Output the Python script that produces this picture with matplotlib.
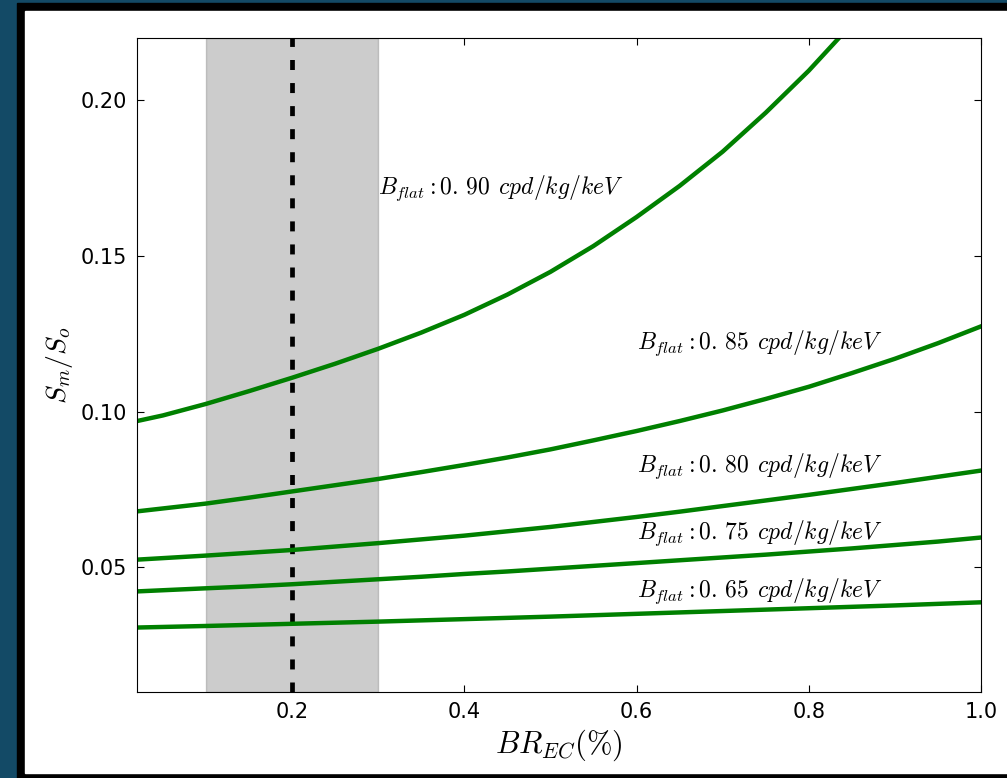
import numpy as np
import matplotlib
matplotlib.use('Agg')
from matplotlib import pyplot as plt
from matplotlib.patches import Rectangle

plt.rcParams['mathtext.fontset'] = 'cm'
plt.rcParams['lines.scale_dashes'] = False

br_top = [0.02, 0.05, 0.1, 0.15, 0.2, 0.25, 0.3, 0.35, 0.4, 0.45, 0.5,
          0.55, 0.6, 0.65, 0.7, 0.75, 0.8, 0.85]
br = [0.02, 0.1, 0.15, 0.2, 0.25, 0.3, 0.35, 0.4, 0.45, 0.5, 0.55,
      0.6, 0.65, 0.7, 0.75, 0.8, 0.85, 0.9, 0.95, 1.0]

# Sm/So for each flat background level
s_090 = [0.0970, 0.0988, 0.1025, 0.1066, 0.1109, 0.1154, 0.1202, 0.1254, 0.1311,
         0.1376, 0.1449, 0.1532, 0.1625, 0.1725, 0.1835, 0.1960, 0.2095, 0.2245]
s_085 = [0.0680, 0.0705, 0.0724, 0.0744, 0.0764, 0.0784, 0.0806, 0.0829, 0.0853, 0.0879,
         0.0908, 0.0938, 0.0970, 0.1004, 0.1041, 0.1080, 0.1124, 0.1170, 0.1220, 0.1274]
s_080 = [0.0525, 0.0538, 0.0547, 0.0556, 0.0567, 0.0578, 0.0590, 0.0602, 0.0616, 0.0630,
         0.0646, 0.0662, 0.0679, 0.0697, 0.0715, 0.0733, 0.0752, 0.0771, 0.0791, 0.0811]
s_075 = [0.0423, 0.0433, 0.0439, 0.0446, 0.0454, 0.0462, 0.0470, 0.0479, 0.0487, 0.0496,
         0.0505, 0.0514, 0.0523, 0.0532, 0.0541, 0.0551, 0.0561, 0.0572, 0.0583, 0.0596]
s_065 = [0.0307, 0.0312, 0.03155, 0.0319, 0.03225, 0.0326, 0.0330, 0.0334, 0.0338, 0.0342,
         0.03465, 0.0351, 0.03555, 0.0360, 0.03645, 0.0369, 0.03735, 0.0378, 0.0383, 0.0388]

labels = ['0.90', '0.85', '0.80', '0.75', '0.65']
label_x = [0.3, 0.6, 0.6, 0.6, 0.6]
label_y = [0.17, 0.12, 0.0805, 0.059, 0.0405]

fig = plt.figure(figsize=(10.07, 7.78), dpi=100, facecolor='#134a66')
# black frame and white page behind the axes
fig.patches.append(Rectangle((17/1007, 0), 1 - 17/1007, 775/778,
                             transform=fig.transFigure, color='black', zorder=-2))
fig.patches.append(Rectangle((25/1007, 5/778), 1 - 25/1007, 762/778,
                             transform=fig.transFigure, color='white', zorder=-1))

ax = fig.add_axes([137/1007, 1 - 692/778, (981 - 137)/1007, (692 - 38)/778])

ax.axvspan(0.1, 0.3, facecolor='gray', edgecolor='gray', alpha=0.4, lw=1)
ax.axvline(0.2, color='black', lw=3.4, dashes=(7.2, 9.4))

ax.plot(br_top, s_090, color='green', lw=3.2)
for s in [s_085, s_080, s_075, s_065]:
    ax.plot(br, s, color='green', lw=3.2)

for lab, tx, ty in zip(labels, label_x, label_y):
    a, b = lab.split('.')
    ax.text(tx, ty, r'$B_{flat}:%s.\,%s\;\,cpd/kg/keV$' % (a, b), fontsize=17)

ax.set_xlim(0.02, 1.0)
ax.set_ylim(0.01, 0.22)
ax.set_xticks([0.2, 0.4, 0.6, 0.8, 1.0])
ax.set_yticks([0.05, 0.10, 0.15, 0.20])
ax.tick_params(direction='in', top=True, right=True, labelsize=15, length=5, pad=7)
ax.set_xlabel(r'$BR_{EC}(\%)$', fontsize=22)
ax.set_ylabel(r'$S_m/S_o$', fontsize=20)

plt.savefig('out.png', dpi=100, facecolor=fig.get_facecolor())
